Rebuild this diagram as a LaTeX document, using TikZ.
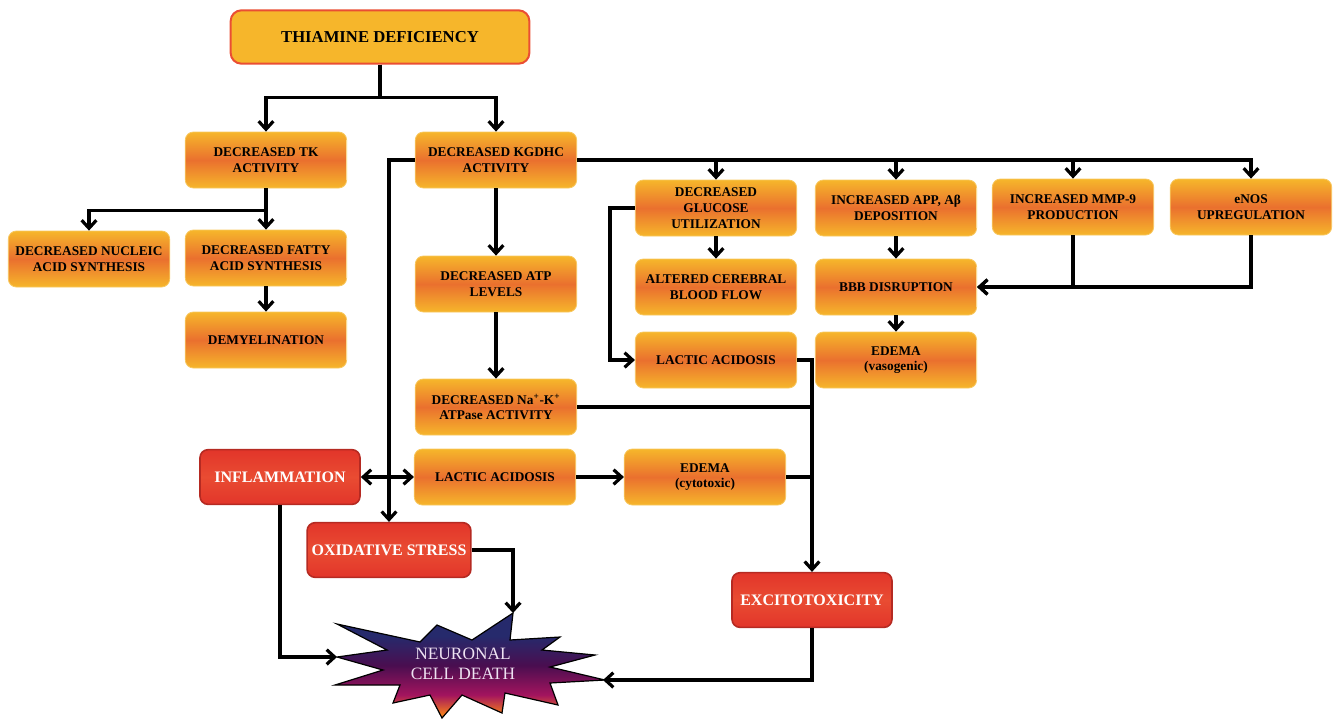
\documentclass[tikz,border=0pt]{standalone}
\usepackage{fontspec}
\setmainfont{Liberation Serif}
\usepackage{tikz}
\usetikzlibrary{arrows.meta, positioning, calc}
\definecolor{boxyellow}{HTML}{F6B62B}
\definecolor{boxorange}{HTML}{EA702E}
\definecolor{boxred}{HTML}{E2352A}
\definecolor{boxredlight}{HTML}{E94C32}
\definecolor{redline}{HTML}{B52A22}
\definecolor{topline}{HTML}{EA4E33}
\definecolor{burstnavy}{HTML}{262A6C}
\definecolor{burstpurple}{HTML}{4A0E50}
\definecolor{burstmagenta}{HTML}{A3145E}
\definecolor{burstorange}{HTML}{F27A1E}
\definecolor{deathtext}{HTML}{EEE2F2}
\pgfdeclareverticalshading{burstshade}{100bp}{color(0bp)=(burstorange); color(27bp)=(burstorange); color(36bp)=(burstmagenta); color(50bp)=(burstpurple); color(64bp)=(burstnavy); color(100bp)=(burstnavy)}

\begin{document}
\begin{tikzpicture}[
  x=0.75pt, y=-0.75pt,
  orangebox/.style={rectangle, rounded corners=6pt, draw=boxyellow!75!white, line width=0.6pt, top color=boxyellow, bottom color=boxyellow, middle color=boxorange, minimum width=121pt, minimum height=42pt, align=center, font=\fontsize{10}{11.8}\selectfont\bfseries},
  redbox/.style={rectangle, rounded corners=6pt, draw=redline, line width=1.2pt, top color=boxred, bottom color=boxred, middle color=boxredlight, minimum width=120pt, minimum height=41pt, align=center, text=white, font=\fontsize{12}{14}\selectfont\bfseries},
  topbox/.style={rectangle, rounded corners=8pt, draw=topline, line width=1.5pt, fill=boxyellow, minimum width=224pt, minimum height=40pt, font=\fontsize{12.5}{14}\selectfont\bfseries},
  link/.style={line width=2.4pt},
  conn/.style={link, -{Straight Barb[length=6pt, width=11pt]}},
  dblconn/.style={link, {Straight Barb[length=6pt, width=11pt]}-{Straight Barb[length=6pt, width=11pt]}}
]
  \useasboundingbox (0,0) rectangle (1338,719);

  % top of the tree
  \node[topbox] (thia) at (380,37) {THIAMINE DEFICIENCY};
  \node[orangebox] (tk) at (266,160) {DECREASED TK\\ACTIVITY};
  \node[orangebox] (kgdhc) at (496,160) {DECREASED KGDHC\\ACTIVITY};

  % TK branch
  \node[orangebox] (nucleic) at (89,259) {DECREASED NUCLEIC\\ACID SYNTHESIS};
  \node[orangebox] (fatty) at (266,258) {DECREASED FATTY\\ACID SYNTHESIS};
  \node[orangebox] (demyel) at (266,340) {DEMYELINATION};

  % KGDHC branch
  \node[orangebox] (atp) at (496,284) {DECREASED ATP\\LEVELS};
  \node[orangebox] (nak) at (496,407) {DECREASED Na\textsuperscript{+}-K\textsuperscript{+}\\ATPase ACTIVITY};
  \node[orangebox] (gluc) at (716,208) {DECREASED\\GLUCOSE\\UTILIZATION};
  \node[orangebox] (blood) at (716,287) {ALTERED CEREBRAL\\BLOOD FLOW};
  \node[orangebox] (lacticA) at (716,360) {LACTIC ACIDOSIS};
  \node[orangebox] (app) at (896,208) {INCREASED APP, Aβ\\DEPOSITION};
  \node[orangebox] (mmp) at (1073,207) {INCREASED MMP-9\\PRODUCTION};
  \node[orangebox] (enos) at (1251,207) {eNOS\\UPREGULATION};
  \node[orangebox] (bbb) at (896,287) {BBB DISRUPTION};
  \node[orangebox] (edemaV) at (896,360) {EDEMA\\(vasogenic)};

  % lower part
  \node[redbox] (inflam) at (280,477) {INFLAMMATION};
  \node[orangebox] (lacticB) at (495,477) {LACTIC ACIDOSIS};
  \node[orangebox] (edemaC) at (705,477) {EDEMA\\(cytotoxic)};
  \node[redbox] (oxid) at (389,550) {OXIDATIVE STRESS};
  \node[redbox] (excito) at (812,600) {EXCITOTOXICITY};

  % neuronal cell death burst
  \shadedraw[shading=burstshade, draw=black, line width=0.9pt]
    (337,624) -- (420,642) -- (437,625) -- (472,640) -- (513,613) -- (510,640)
    -- (560,637) -- (542,650) -- (595,655) -- (550,667) -- (605,680) -- (550,683)
    -- (558,705) -- (505,693) -- (502,713) -- (462,695) -- (442,718) -- (430,695)
    -- (393,703) -- (400,685) -- (335,685) -- (383,670) -- (337,657) -- (387,650) -- cycle;
  \node[align=center, text=deathtext, font=\fontsize{13}{15}\selectfont] (death) at (463,664) {NEURONAL\\CELL DEATH};
  \coordinate (deathL) at (337,657);
  \coordinate (deathT) at (513,613);
  \coordinate (deathR) at (603,680);

  % connectors
  \draw[conn] (thia.south) -- ++(0,33) -| (tk.north);
  \draw[conn] (thia.south) -- ++(0,33) -| (kgdhc.north);
  \draw[conn] (tk.south) -- ++(0,22) -| (nucleic.north);
  \draw[conn] (tk.south) -- (fatty.north);
  \draw[conn] (fatty) -- (demyel);
  \draw[conn] (kgdhc) -- (atp);
  \draw[conn] (atp) -- (nak);
  \foreach \n in {gluc, app, mmp, enos}
    \draw[conn] (kgdhc.east) -| (\n.north);
  \draw[conn] (kgdhc.west) -| (oxid.north);
  \draw[dblconn] (inflam) -- (lacticB);
  \draw[conn] (gluc.west) -- ++(-25,0) |- (lacticA.west);
  \draw[conn] (gluc) -- (blood);
  \draw[conn] (app) -- (bbb);
  \draw[conn] (mmp.south) |- (bbb.east);
  \draw[conn] (enos.south) |- (bbb.east);
  \draw[conn] (bbb) -- (edemaV);
  \draw[conn] (lacticA.east) -| (excito.north);
  \draw[link] (nak.east) -- (nak.east -| excito.north);
  \draw[link] (edemaC.east) -- (edemaC.east -| excito.north);
  \draw[conn] (lacticB) -- (edemaC);
  \draw[conn] (inflam.south) |- (deathL);
  \draw[conn] (oxid.east) -| (deathT);
  \draw[conn] (excito.south) |- (deathR);
\end{tikzpicture}
\end{document}
